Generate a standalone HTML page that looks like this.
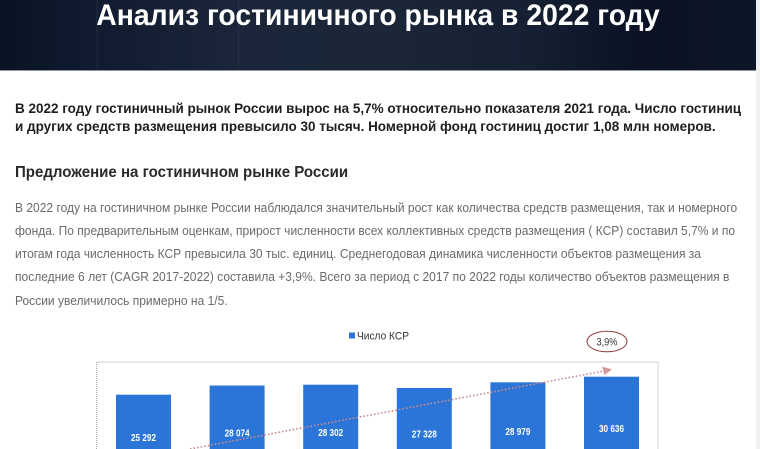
<!DOCTYPE html>
<html>
<head>
<meta charset="utf-8">
<style>
  html,body{margin:0;padding:0;}
  body{width:760px;height:449px;overflow:hidden;position:relative;background:#fff;font-family:"Liberation Sans",Arial,sans-serif;}
  .hdr{position:absolute;left:0;top:0;width:756px;height:70px;
    background:linear-gradient(90deg,#0a1325 0%,#101b30 12%,#1a2539 30%,#1b2639 50%,#152033 70%,#0a1224 85%,#0d1628 100%);
    border-bottom:1px solid #8d949c;}
  .hdr .v1{position:absolute;left:96px;top:0;width:2px;height:70px;background:rgba(255,255,255,0.04);}
  .hdr .v2{position:absolute;left:238px;top:0;width:1px;height:70px;background:rgba(255,255,255,0.06);}
  .strip{position:absolute;left:756px;top:0;width:4px;height:449px;background:#eef0f2;}
  .title{position:absolute;left:0;top:-2px;width:756px;text-align:center;color:#fff;font-weight:bold;font-size:30px;line-height:36px;white-space:nowrap;transform:scaleX(0.945);transform-origin:378px 0;}
  .lead{position:absolute;left:15px;top:99px;color:#1e1e1e;font-weight:bold;font-size:14px;line-height:18px;white-space:nowrap;transform:scaleX(0.963);transform-origin:0 0;}
  .h2{position:absolute;left:15px;top:163px;color:#2a2a2a;font-weight:bold;font-size:16px;line-height:20px;white-space:nowrap;transform:scaleX(0.94);transform-origin:0 0;}
  .para{position:absolute;left:15px;top:195.5px;color:#6a6a6a;font-size:13px;line-height:23.3px;white-space:nowrap;transform:scaleX(0.925);transform-origin:0 0;}
  svg{position:absolute;left:0;top:0;}
</style>
</head>
<body>
<div class="hdr"><div class="v1"></div><div class="v2"></div></div>
<div class="strip"></div>
<div class="title">Анализ гостиничного рынка в 2022 году</div>
<div class="lead">В 2022 году гостиничный рынок России вырос на 5,7% относительно показателя 2021 года. Число гостиниц<br>и других средств размещения превысило 30 тысяч. Номерной фонд гостиниц достиг 1,08 млн номеров.</div>
<div class="h2">Предложение на гостиничном рынке России</div>
<div class="para">В 2022 году на гостиничном рынке России наблюдался значительный рост как количества средств размещения, так и номерного<br>фонда. По предварительным оценкам, прирост численности всех коллективных средств размещения ( КСР) составил 5,7% и по<br>итогам года численность КСР превысила 30 тыс. единиц. Среднегодовая динамика численности объектов размещения за<br>последние 6 лет (CAGR 2017-2022) составила +3,9%. Всего за период с 2017 по 2022 годы количество объектов размещения в<br>России увеличилось примерно на 1/5.</div>

<svg width="760" height="449" viewBox="0 0 760 449" xmlns="http://www.w3.org/2000/svg">
  <rect x="349" y="332.5" width="6" height="6" fill="#2b74d8"/>
  <text x="357" y="339.5" font-family="Liberation Sans, Arial, sans-serif" font-size="11" fill="#333" textLength="52" lengthAdjust="spacingAndGlyphs">Число КСР</text>
  <path d="M96.5 449 V362 H658 V449" fill="none" stroke="#a8a8a8" stroke-width="1" stroke-dasharray="1,1"/>
  <g fill="#2b74d8">
    <rect x="116" y="394.7" width="55" height="54.3"/>
    <rect x="209.6" y="385.5" width="55" height="63.5"/>
    <rect x="303.2" y="384.7" width="55" height="64.3"/>
    <rect x="396.8" y="388" width="55" height="61"/>
    <rect x="490.4" y="382.3" width="55" height="66.7"/>
    <rect x="584" y="376.7" width="55" height="72.3"/>
  </g>
  <line x1="190" y1="449" x2="604" y2="371" stroke="#c98c8c" stroke-width="1.6" stroke-dasharray="1.6,2"/>
  <polygon points="612,369.3 602,366.8 604.5,375" fill="#d29a9a"/>
  <g font-family="Liberation Sans, Arial, sans-serif" font-size="10" font-weight="bold" fill="#fff" text-anchor="middle">
    <text x="143.5" y="441" textLength="25" lengthAdjust="spacingAndGlyphs">25 292</text>
    <text x="237.1" y="436.3" textLength="25" lengthAdjust="spacingAndGlyphs">28 074</text>
    <text x="330.7" y="435.9" textLength="25" lengthAdjust="spacingAndGlyphs">28 302</text>
    <text x="424.3" y="437.6" textLength="25" lengthAdjust="spacingAndGlyphs">27 328</text>
    <text x="517.9" y="434.8" textLength="25" lengthAdjust="spacingAndGlyphs">28 979</text>
    <text x="611.5" y="431.9" textLength="25" lengthAdjust="spacingAndGlyphs">30 636</text>
  </g>
  <ellipse cx="607" cy="341.5" rx="20" ry="10.3" fill="#fff" stroke="#8e3a3a" stroke-width="1"/>
  <text x="607" y="345.5" font-family="Liberation Sans, Arial, sans-serif" font-size="11" fill="#333" text-anchor="middle" textLength="21" lengthAdjust="spacingAndGlyphs">3,9%</text>
</svg>
</body>
</html>
